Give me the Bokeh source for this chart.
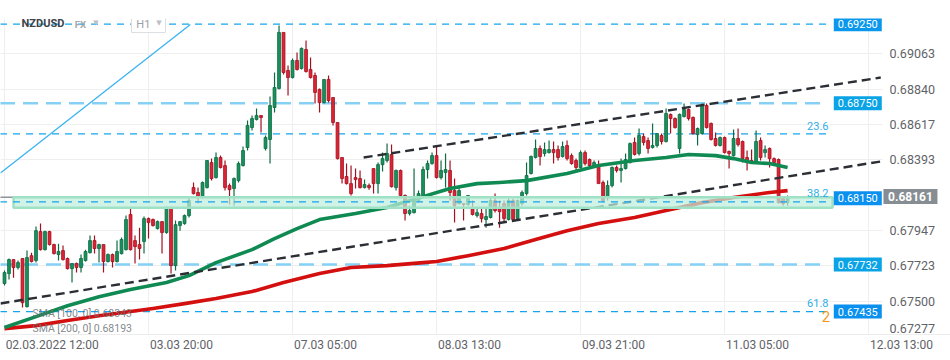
from bokeh.plotting import figure
from bokeh.models import Range1d, FixedTicker, ColumnDataSource
from bokeh.core.properties import value
from bokeh.embed import file_html
from bokeh.resources import INLINE

# ---------------- data (NZDUSD, H1) ----------------
opens = [
0.67612, 0.67675, 0.67763, 0.67713, 0.67770, 0.67466, 0.67788, 0.67757, 0.67940, 0.67826,
0.67940, 0.67858, 0.67795, 0.67820, 0.67770, 0.67706, 0.67738, 0.67713, 0.67757, 0.67807,
0.67883, 0.67833, 0.67858, 0.67751, 0.67795, 0.67751, 0.67801, 0.67826, 0.68048, 0.67883,
0.67858, 0.67877, 0.68022, 0.68016, 0.67959, 0.68003, 0.67934, 0.68092, 0.67725, 0.67978,
0.67991, 0.68041, 0.68218, 0.68187, 0.68155, 0.68218, 0.68376, 0.68281, 0.68408, 0.68357,
0.68231, 0.68212, 0.68262, 0.68357, 0.68471, 0.68597, 0.68648, 0.68673, 0.68465, 0.68522,
0.68724, 0.68844, 0.69198, 0.68958, 0.68913, 0.69021, 0.68970, 0.69090, 0.68964, 0.68926,
0.68838, 0.68755, 0.68901, 0.68787, 0.68629, 0.68408, 0.68288, 0.68243, 0.68281, 0.68275,
0.68218, 0.68231, 0.68338, 0.68243, 0.68363, 0.68389, 0.68427, 0.68218, 0.68326, 0.68168,
0.68054, 0.68060, 0.68136, 0.68168, 0.68332, 0.68370, 0.68420, 0.68281, 0.68313, 0.68326,
0.68199, 0.68117, 0.68117, 0.68111, 0.68085, 0.68041, 0.68054, 0.68016, 0.68029, 0.68136,
0.68085, 0.68117, 0.68016, 0.68136, 0.68022, 0.68117, 0.68180, 0.68307, 0.68408, 0.68465,
0.68433, 0.68439, 0.68458, 0.68458, 0.68414, 0.68484, 0.68420, 0.68389, 0.68345, 0.68439,
0.68395, 0.68351, 0.68363, 0.68250, 0.68155, 0.68231, 0.68345, 0.68326, 0.68338, 0.68376,
0.68503, 0.68433, 0.68540, 0.68515, 0.68471, 0.68484, 0.68547, 0.68509, 0.68680, 0.68654,
0.68465, 0.68667, 0.68711, 0.68661, 0.68553, 0.68559, 0.68736, 0.68623, 0.68528, 0.68484,
0.68534, 0.68446, 0.68420, 0.68528, 0.68509, 0.68408, 0.68389, 0.68376, 0.68515, 0.68439,
0.68465, 0.68401, 0.68395, 0.68149, 0.68123]

highs = [
0.67694, 0.67770, 0.67763, 0.67757, 0.67770, 0.67820, 0.67807, 0.67972, 0.67991, 0.67946,
0.67946, 0.67864, 0.67864, 0.67852, 0.67776, 0.67738, 0.67744, 0.67795, 0.67826, 0.67915,
0.67915, 0.67864, 0.67858, 0.67801, 0.67801, 0.67883, 0.67902, 0.68041, 0.68085, 0.67915,
0.67965, 0.68035, 0.68029, 0.68022, 0.68010, 0.68003, 0.68098, 0.68098, 0.68010, 0.68003,
0.68048, 0.68155, 0.68250, 0.68218, 0.68256, 0.68389, 0.68401, 0.68439, 0.68420, 0.68389,
0.68243, 0.68281, 0.68382, 0.68477, 0.68642, 0.68673, 0.68717, 0.68673, 0.68547, 0.68793,
0.68945, 0.69242, 0.69198, 0.68989, 0.69033, 0.69071, 0.69103, 0.69147, 0.69040, 0.68945,
0.68844, 0.68901, 0.68926, 0.68787, 0.68629, 0.68408, 0.68370, 0.68357, 0.68338, 0.68326,
0.68269, 0.68243, 0.68338, 0.68376, 0.68439, 0.68496, 0.68490, 0.68332, 0.68332, 0.68174,
0.68104, 0.68338, 0.68199, 0.68351, 0.68389, 0.68439, 0.68484, 0.68389, 0.68433, 0.68389,
0.68275, 0.68218, 0.68117, 0.68168, 0.68136, 0.68085, 0.68085, 0.68085, 0.68155, 0.68180,
0.68136, 0.68136, 0.68149, 0.68149, 0.68142, 0.68199, 0.68376, 0.68420, 0.68522, 0.68484,
0.68503, 0.68515, 0.68509, 0.68484, 0.68509, 0.68515, 0.68433, 0.68401, 0.68452, 0.68452,
0.68401, 0.68389, 0.68389, 0.68262, 0.68262, 0.68351, 0.68357, 0.68401, 0.68433, 0.68503,
0.68534, 0.68591, 0.68559, 0.68534, 0.68623, 0.68559, 0.68559, 0.68717, 0.68686, 0.68661,
0.68686, 0.68749, 0.68717, 0.68667, 0.68597, 0.68749, 0.68749, 0.68629, 0.68566, 0.68540,
0.68540, 0.68452, 0.68585, 0.68591, 0.68515, 0.68452, 0.68458, 0.68579, 0.68534, 0.68484,
0.68471, 0.68408, 0.68401, 0.68161, 0.68168]

lows = [
0.67599, 0.67637, 0.67649, 0.67700, 0.67460, 0.67460, 0.67744, 0.67744, 0.67820, 0.67820,
0.67852, 0.67795, 0.67757, 0.67757, 0.67700, 0.67618, 0.67681, 0.67681, 0.67751, 0.67801,
0.67801, 0.67744, 0.67681, 0.67744, 0.67713, 0.67744, 0.67795, 0.67820, 0.67820, 0.67738,
0.67763, 0.67801, 0.67896, 0.67972, 0.67953, 0.67801, 0.67927, 0.67675, 0.67694, 0.67946,
0.67984, 0.68029, 0.68174, 0.68117, 0.68149, 0.68212, 0.68262, 0.68275, 0.68338, 0.68199,
0.68111, 0.68104, 0.68250, 0.68351, 0.68452, 0.68579, 0.68642, 0.68566, 0.68452, 0.68370,
0.68692, 0.68838, 0.68932, 0.68800, 0.68907, 0.68958, 0.68964, 0.68945, 0.68907, 0.68749,
0.68692, 0.68749, 0.68755, 0.68610, 0.68395, 0.68243, 0.68237, 0.68168, 0.68212, 0.68212,
0.68212, 0.68205, 0.68180, 0.68180, 0.68319, 0.68376, 0.68218, 0.68199, 0.68161, 0.68010,
0.68041, 0.68054, 0.68123, 0.68155, 0.68275, 0.68363, 0.68275, 0.68269, 0.68218, 0.68136,
0.67997, 0.68111, 0.68010, 0.68104, 0.68041, 0.68029, 0.67997, 0.67965, 0.68022, 0.68060,
0.67965, 0.67997, 0.68010, 0.68010, 0.68016, 0.68104, 0.68168, 0.68300, 0.68401, 0.68357,
0.68414, 0.68433, 0.68370, 0.68389, 0.68408, 0.68389, 0.68363, 0.68326, 0.68338, 0.68357,
0.68351, 0.68345, 0.68243, 0.68123, 0.68136, 0.68218, 0.68313, 0.68250, 0.68332, 0.68370,
0.68420, 0.68420, 0.68484, 0.68433, 0.68465, 0.68471, 0.68490, 0.68503, 0.68559, 0.68591,
0.68433, 0.68661, 0.68642, 0.68553, 0.68484, 0.68553, 0.68591, 0.68515, 0.68477, 0.68477,
0.68433, 0.68338, 0.68414, 0.68477, 0.68376, 0.68326, 0.68376, 0.68370, 0.68389, 0.68408,
0.68345, 0.68370, 0.68117, 0.68104, 0.68104]

closes = [
0.67681, 0.67763, 0.67713, 0.67744, 0.67491, 0.67776, 0.67751, 0.67946, 0.67826, 0.67940,
0.67858, 0.67801, 0.67814, 0.67763, 0.67706, 0.67738, 0.67713, 0.67770, 0.67814, 0.67883,
0.67833, 0.67858, 0.67751, 0.67795, 0.67751, 0.67814, 0.67890, 0.68016, 0.67826, 0.67845,
0.67833, 0.68022, 0.67997, 0.67978, 0.68003, 0.67934, 0.68092, 0.67725, 0.67984, 0.68003,
0.68041, 0.68136, 0.68180, 0.68155, 0.68250, 0.68389, 0.68275, 0.68408, 0.68345, 0.68218,
0.68205, 0.68275, 0.68370, 0.68452, 0.68610, 0.68654, 0.68673, 0.68661, 0.68534, 0.68736,
0.68850, 0.69198, 0.68945, 0.68913, 0.69021, 0.68964, 0.69097, 0.68951, 0.68913, 0.68819,
0.68755, 0.68901, 0.68768, 0.68629, 0.68401, 0.68275, 0.68243, 0.68180, 0.68269, 0.68218,
0.68237, 0.68218, 0.68243, 0.68363, 0.68401, 0.68433, 0.68224, 0.68326, 0.68168, 0.68054,
0.68073, 0.68136, 0.68180, 0.68332, 0.68370, 0.68420, 0.68281, 0.68326, 0.68332, 0.68187,
0.68104, 0.68199, 0.68111, 0.68168, 0.68048, 0.68060, 0.68022, 0.68035, 0.68136, 0.68073,
0.68066, 0.68022, 0.68136, 0.68016, 0.68136, 0.68187, 0.68294, 0.68414, 0.68465, 0.68414,
0.68458, 0.68458, 0.68439, 0.68408, 0.68477, 0.68401, 0.68370, 0.68345, 0.68439, 0.68370,
0.68357, 0.68376, 0.68243, 0.68136, 0.68231, 0.68345, 0.68326, 0.68338, 0.68395, 0.68496,
0.68427, 0.68547, 0.68503, 0.68465, 0.68484, 0.68559, 0.68509, 0.68686, 0.68654, 0.68597,
0.68680, 0.68711, 0.68654, 0.68559, 0.68591, 0.68736, 0.68597, 0.68522, 0.68484, 0.68534,
0.68439, 0.68433, 0.68528, 0.68490, 0.68401, 0.68376, 0.68376, 0.68509, 0.68408, 0.68458,
0.68401, 0.68376, 0.68123, 0.68117, 0.68161]

assert len(opens) == len(highs) == len(lows) == len(closes) == 175

sma100_idx = [0, 7, 14, 21, 28, 36, 41, 47, 55, 60, 65, 70, 78, 85, 93, 99, 105, 110, 116, 125,
              132, 140, 147, 152, 158, 162, 166, 170, 174]
sma100_val = [0.67334, 0.67403, 0.67472, 0.67529, 0.67574, 0.67618, 0.67662, 0.67744, 0.67826, 0.67896,
              0.67959, 0.68016, 0.68054, 0.68092, 0.68161, 0.68212, 0.68243, 0.68250, 0.68262, 0.68307,
              0.68357, 0.68389, 0.68408, 0.68427, 0.68420, 0.68401, 0.68376, 0.68370, 0.68345]
sma200_idx = [0, 7, 14, 21, 28, 33, 40, 47, 55, 62, 70, 77, 85, 93, 96, 103, 111, 118, 125, 132,
              140, 147, 155, 162, 170, 174]
sma200_val = [0.67327, 0.67346, 0.67378, 0.67409, 0.67435, 0.67454, 0.67485, 0.67517, 0.67561, 0.67618,
              0.67675, 0.67713, 0.67725, 0.67744, 0.67751, 0.67788, 0.67833, 0.67890, 0.67946, 0.67991,
              0.68029, 0.68073, 0.68123, 0.68155, 0.68187, 0.68199]

time_ticks = [0, 32, 64, 96, 128, 160, 192]
time_labels = ["02.03.2022  12:00", "03.03  20:00", "07.03  05:00", "08.03  13:00",
               "09.03  21:00", "11.03  05:00", "12.03  13:00"]
price_ticks = [0.69063, 0.68840, 0.68617, 0.68393, 0.67947, 0.67723, 0.67500]
price_tick_labels = ["0.69063", "0.68840", "0.68617", "0.68393", "0.67947", "0.67723", "0.67500"]
bottom_tick_label = "0.67277"

level_values = [0.69250, 0.68750, 0.68150, 0.67732, 0.67435]
level_labels = ["0.69250", "0.68750", "0.68150", "0.67732", "0.67435"]
level_box_colors = ["#0a97ec", "#0aa3e6", "#0a90ee", "#0aa3e6", "#0a90ee"]
fib_names = ["23.6", "38.2", "61.8"]
fib_prices = [0.68557, 0.68128, 0.67435]
support_zone = (0.68090, 0.68157)
last_price = 0.68161

# trend lines: (bar, price) endpoints
lower_channel = ([-0.9, 194.7], [0.67486, 0.68383])
upper_channel = ([79.8, 194.7], [0.68408, 0.68913])
blue_trend = ([-0.9, 41.3], [0.68310, 0.69248])

# ---------------- figure ----------------
FONT = "Roboto"
PX_PER_BAR = 4.5
X0, X_AXIS, X1 = -0.89, 195.1, 210.2      # frame start, price-scale position, frame end
Y0, Y1 = 0.67290, 0.69286

p = figure(width=950, height=360, x_range=Range1d(X0, X1), y_range=Range1d(Y0, Y1),
           output_backend="svg", toolbar_location=None, y_axis_location="right",
           min_border_left=0, min_border_right=0, min_border_top=18, min_border_bottom=26)
p.outline_line_color = None
p.background_fill_color = "white"


def text_width(s, size=12.0):
    w = {".": 0.264, ":": 0.240, " ": 0.248}
    return sum(w.get(ch, 0.55) for ch in s) * size


# time axis: labels start just right of their grid line
label_pos = [t + (text_width(s) / 2 + 2) / PX_PER_BAR for t, s in zip(time_ticks, time_labels)]
p.xaxis.ticker = FixedTicker(ticks=label_pos)
p.xaxis.major_label_overrides = dict(zip(label_pos, time_labels))
p.xaxis.major_label_text_font = FONT
p.xaxis.major_label_text_font_size = "12px"
p.xaxis.major_label_text_color = "#5f6368"
p.xaxis.major_label_standoff = 3
p.xaxis.axis_line_color = "#ececec"
p.xaxis.major_tick_line_color = None
p.xaxis.minor_tick_line_color = None
p.xaxis.major_tick_out = 0
p.xaxis.major_tick_in = 0

# price scale drawn at a fixed position inside the frame
bottom_pos = 0.67325
p.yaxis.fixed_location = X_AXIS
p.yaxis.ticker = FixedTicker(ticks=price_ticks + [bottom_pos])
ov = dict(zip(price_ticks, price_tick_labels))
ov[bottom_pos] = bottom_tick_label
p.yaxis.major_label_overrides = ov
p.yaxis.major_label_text_font = FONT
p.yaxis.major_label_text_font_size = "12.5px"
p.yaxis.major_label_text_color = "#5f6368"
p.yaxis.major_label_standoff = 7
p.yaxis.axis_line_color = None
p.yaxis.major_tick_line_color = None
p.yaxis.minor_tick_line_color = None
p.yaxis.major_tick_out = 0
p.yaxis.major_tick_in = 0

p.xgrid.ticker = FixedTicker(ticks=time_ticks)
p.ygrid.ticker = FixedTicker(ticks=price_ticks)
p.xgrid.grid_line_color = "#efefef"
p.ygrid.grid_line_color = "#efefef"

# keep the price-scale strip clear of grid lines
p.quad(left=[X_AXIS], right=[X1 + 1], bottom=[Y0 - 0.001], top=[Y1 + 0.001],
       fill_color="white", line_color=None)

# blue diagonal line
p.line(blue_trend[0], blue_trend[1], line_color="#3ab2f0", line_width=1.3)

# horizontal levels
XL, XR = -1, 182.9
bright = "#14a5ee"
light = "#85d1f6"
p.line([XL, XR], [level_values[0]] * 2, line_color=bright, line_width=1.3, line_dash="7 6")
p.line([XL, XR], [level_values[1]] * 2, line_color=light, line_width=2.5, line_dash="15 8")
p.line([XL, XR], [level_values[3]] * 2, line_color=light, line_width=2.5, line_dash="15 8")
for fp in (fib_prices[0], fib_prices[2]):
    p.line([XL, XR], [fp, fp], line_color=bright, line_width=1.3, line_dash="7 6")

# candles
idx = list(range(len(closes)))
up = [c >= o for o, c in zip(opens, closes)]
src = ColumnDataSource(dict(
    x=idx, o=opens, h=highs, l=lows, c=closes,
    top=[max(o, c) for o, c in zip(opens, closes)],
    bot=[min(o, c) for o, c in zip(opens, closes)],
    fill=["#18915c" if u else "#dc2437" for u in up],
    edge=["#0d6b43" if u else "#a3111f" for u in up],
))
p.segment(x0="x", y0="l", x1="x", y1="h", line_color="edge", line_width=1.2, source=src)
p.vbar(x="x", width=0.64, top="top", bottom="bot", fill_color="fill", line_color="edge",
       line_width=0.8, source=src)

# moving averages
p.line(sma200_idx, sma200_val, line_color="#d40f0f", line_width=3.6, line_join="round")
p.line(sma100_idx, sma100_val, line_color="#0f8a52", line_width=3.6, line_join="round")

# channel lines
p.line(lower_channel[0], lower_channel[1], line_color="#2b2f35", line_width=2.4, line_dash="9 5")
p.line(upper_channel[0], upper_channel[1], line_color="#2b2f35", line_width=2.4, line_dash="9 5")

# support zone
p.line([XL, 2], [support_zone[1]] * 2, line_color="#8e9499", line_width=1.5)
p.quad(left=[2], right=[184], bottom=[support_zone[0]], top=[support_zone[1]],
       fill_color="#bfeedb", fill_alpha=0.72, line_color="#9fe1c5", line_width=2.5)
p.line([XL, XR], [fib_prices[1]] * 2, line_color=bright, line_width=1.3, line_dash="7 6")

# fib texts
p.text(x=[183.1] * 3, y=[0.68604, 0.68181, 0.67491], text=fib_names,
       text_font=value(FONT), text_font_size="11px", text_color="#2eaee9",
       text_align="right", text_baseline="middle")

# orange label behind last box
p.text(x=[181.6], y=[0.67404], text=["2"], text_font=value(FONT), text_font_size="15px",
       text_color="#f39a1e", text_align="left", text_baseline="middle")

# price boxes
p.rect(x=[189.6] * 5, y=level_values, width=48, height=14, width_units="screen",
       height_units="screen", fill_color=level_box_colors, line_color=None)
p.text(x=[189.6] * 5, y=level_values, text=level_labels, text_font=value(FONT),
       text_font_size="11px", text_color="white", text_align="center", text_baseline="middle")

# current price box on the price scale
p.rect(x=[201.3], y=[last_price], width=54, height=15, width_units="screen",
       height_units="screen", fill_color="#868e93", line_color=None)
p.text(x=[201.3], y=[last_price], text=[f"{last_price:.5f}"], text_font=value(FONT),
       text_font_size="12px", text_font_style="bold", text_color="white",
       text_align="center", text_baseline="middle")

# header
p.text(x=[3.8], y=[0.69255], text=["NZDUSD"], text_font=value(FONT), text_font_size="11px",
       text_font_style="bold", text_color="#3d4349", text_baseline="middle")
p.text(x=[15.6], y=[0.69250], text=["FX"], text_font=value(FONT), text_font_size="9.5px",
       text_font_style="bold", text_color="#a3a9ae", text_baseline="middle")
p.rect(x=[32], y=[0.69251], width=34, height=17, width_units="screen", height_units="screen",
       fill_color="white", line_color="#dcdfe2")
p.text(x=[29.3], y=[0.69251], text=["H1"], text_font=value(FONT), text_font_size="11px",
       text_color="#9aa0a6", text_baseline="middle")
p.text(x=[19.7, 33.7], y=[0.69258, 0.69258], text=["▼", "▼"], text_font=value("DejaVu Sans"),
       text_font_size="7px", text_color="#bcc1c5", text_baseline="middle")

# indicator legend
p.text(x=[6.2, 6.2], y=[0.67422, 0.67326],
       text=["SMA [100, 0] 0.68343", "SMA [200, 0] 0.68193"],
       text_font=value(FONT), text_font_size="10.5px", text_color="#6b7075", text_alpha=0.85,
       text_baseline="middle")

open("out.html", "w").write(file_html(p, INLINE))
